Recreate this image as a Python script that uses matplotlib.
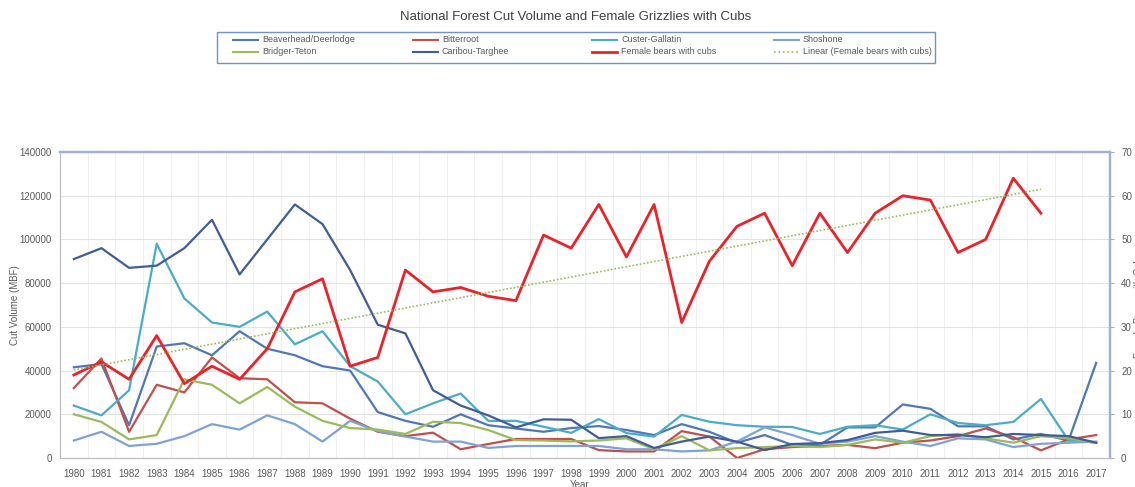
import numpy as np
import matplotlib
matplotlib.use("Agg")
import matplotlib.pyplot as plt
from matplotlib.lines import Line2D
from matplotlib.patches import Rectangle

plt.rcParams['font.family'] = ['Liberation Sans', 'DejaVu Sans']

# -------------------------------
# data
# -------------------------------
years = list(range(1980, 2018))

beaverhead = [41500, 43000, 15000, 51000, 52500, 47000, 58000, 50000, 47000, 42000,
              40000, 21000, 17000, 14300, 20000, 15000, 13500, 12000, 13700, 14600,
              12800, 10500, 15500, 12000, 7000, 10500, 6000, 6000, 14000, 14000,
              24500, 22500, 14500, 14500, 8500, 11000, 8000, 43500]
bitterroot = [32000, 45500, 12000, 33500, 30000, 46000, 36500, 36000, 25500, 25000,
              18000, 12000, 10000, 11600, 4000, 6400, 8700, 8700, 8700, 3600,
              3000, 3000, 12300, 9800, 0, 4000, 5000, 5500, 6000, 4500,
              7000, 8000, 10000, 13500, 9500, 3500, 8500, 10500]
custer_gallatin = [24000, 19500, 31000, 98000, 73000, 62000, 60000, 67000, 52000, 58000,
                   42000, 35000, 20000, 25000, 29500, 17000, 17000, 14300, 11500, 17800,
                   11400, 9800, 19700, 16600, 15000, 14300, 14200, 11000, 14300, 15000,
                   13000, 20000, 16000, 15000, 16500, 27000, 8000, 7000]
shoshone = [8000, 12000, 5500, 6500, 10000, 15500, 13000, 19500, 15500, 7500,
            17000, 12300, 9800, 7500, 7500, 4600, 5500, 5500, 5500, 5500,
            4000, 4000, 3000, 3500, 7500, 14000, 10500, 6500, 7500, 10000,
            7500, 5500, 9000, 8500, 5000, 6500, 7000, 7500]
bridger_teton = [20000, 16500, 8500, 10500, 36000, 33500, 25000, 32500, 23500, 17000,
                 13700, 13000, 11000, 16600, 16000, 12800, 8200, 8000, 7600, 8000,
                 9000, 4000, 10000, 3500, 4500, 5000, 5500, 5000, 6000, 8500,
                 7000, 10000, 11000, 9000, 7000, 10000, 9000, 7000]
caribou_targhee = [91000, 96000, 87000, 88000, 96000, 109000, 84000, 100000, 116000, 107000,
                   86000, 61000, 57000, 31000, 24000, 19500, 14000, 17700, 17500, 9100,
                   10000, 4600, 7500, 9800, 7500, 3600, 6400, 6800, 8200, 11500,
                   12500, 10500, 10500, 9500, 11000, 10500, 10000, 7000]
female_cubs = [19, 22, 18, 28, 17, 21, 18, 25, 38, 41,
               21, 23, 43, 38, 39, 37, 36, 51, 48, 58,
               46, 58, 31, 45, 53, 56, 44, 56, 47, 56,
               60, 59, 47, 50, 64, 56, None, None]

cut_series = [
    ("Beaverhead/Deerlodge", beaverhead, "#4F78B5"),
    ("Bitterroot", bitterroot, "#C0504D"),
    ("Custer-Gallatin", custer_gallatin, "#4BACC6"),
    ("Shoshone", shoshone, "#7FA2D6"),
    ("Bridger-Teton", bridger_teton, "#9BBB59"),
    ("Caribou-Targhee", caribou_targhee, "#3F5D96"),
]
bear_color = "#E8232B"
trend_color = "#9BBB59"
grey = "#595959"

# -------------------------------
# figure
# -------------------------------
W, H = 1135, 487
fig = plt.figure(figsize=(W / 100, H / 100), dpi=100)
ax = fig.add_axes([60 / W, 1 - 458 / H, 1050 / W, 306 / H])
ax2 = ax.twinx()

x = np.arange(len(years))
for name, vals, col in cut_series:
    ax.plot(x, vals, color=col, lw=1.6, zorder=3)

bears = np.array([np.nan if v is None else v for v in female_cubs], dtype=float)
ax2.plot(x, bears, color=bear_color, lw=2.0, zorder=4)
ok = ~np.isnan(bears)
k, b = np.polyfit(x[ok], bears[ok], 1)
xt = x[ok]
ax2.plot(xt, k * xt + b, color=trend_color, lw=1.2, ls=(0, (1, 1.2)), zorder=4)

ax.set_xlim(-0.5, len(years) - 0.5)
ax.set_ylim(0, 140000)
ax2.set_ylim(0, 70)
ax.set_yticks(range(0, 140001, 20000))
ax2.set_yticks(range(0, 71, 10))
ax.set_xticks(x)
ax.set_xticklabels([str(y) for y in years])

ax.set_xticks(x[:-1] + 0.5, minor=True)
ax.grid(True, axis='y', color="#E3E3E3", lw=0.8, zorder=0)
ax.grid(True, axis='x', which='minor', color="#F0F0F0", lw=0.8, zorder=0)
ax.set_axisbelow(True)

ax.tick_params(axis='both', which='both', length=0, labelsize=7, colors=grey, pad=6)
ax.tick_params(axis='x', pad=8)
ax2.tick_params(axis='y', length=3, labelsize=7, colors=grey, pad=5, color="#9DB3CF")

for a in (ax, ax2):
    a.spines['left'].set_color("#BFBFBF")
    a.spines['bottom'].set_color("#BFBFBF")
    a.spines['top'].set_color("#9DB3CF")
    a.spines['top'].set_linewidth(1.6)
    a.spines['right'].set_color("#9DB3CF")
    a.spines['right'].set_linewidth(1.6)

# axis titles (the reference crops the right one and "Year" at the edge)
fig.text(15 / W, 1 - 305 / H, "Cut Volume (MBF)", fontsize=7, color=grey,
         rotation=90, ha='center', va='center')
fig.text(580 / W, 1 - 480 / H, "Year", fontsize=7, color=grey, ha='center', va='top')
fig.text(1139 / W, 1 - 305 / H, "Female Bears with Cubs", fontsize=7, color=grey,
         rotation=90, ha='center', va='center')

fig.text(576 / W, 1 - 17 / H, "National Forest Cut Volume and Female Grizzlies with Cubs",
         fontsize=9.5, color="#404040", ha='center', va='center')

# -------------------------------
# legend box (drawn by hand to get even columns)
# -------------------------------
fig.add_artist(Rectangle((217 / W, 1 - 63 / H), 718 / W, 31 / H, transform=fig.transFigure,
                         fill=False, edgecolor="#6F93C6", lw=1.0))
entries = [
    ("Beaverhead/Deerlodge", "#4F78B5", '-', 1.5),
    ("Bitterroot", "#C0504D", '-', 1.5),
    ("Custer-Gallatin", "#4BACC6", '-', 1.5),
    ("Shoshone", "#7FA2D6", '-', 1.5),
    ("Bridger-Teton", "#9BBB59", '-', 1.5),
    ("Caribou-Targhee", "#3F5D96", '-', 1.5),
    ("Female bears with cubs", bear_color, '-', 2.0),
    ("Linear (Female bears with cubs)", trend_color, ':', 1.2),
]
col_x = [233, 413, 592, 774]
row_y = [40, 52]
for i, (label, col, ls, lw) in enumerate(entries):
    cx = col_x[i % 4]
    cy = row_y[i // 4]
    fig.add_artist(Line2D([cx / W, (cx + 25) / W], [1 - cy / H, 1 - cy / H],
                          transform=fig.transFigure, color=col, ls=ls, lw=lw))
    fig.text((cx + 29) / W, 1 - cy / H, label, fontsize=6.5, color=grey,
             ha='left', va='center')

fig.savefig("out.png", dpi=100)
